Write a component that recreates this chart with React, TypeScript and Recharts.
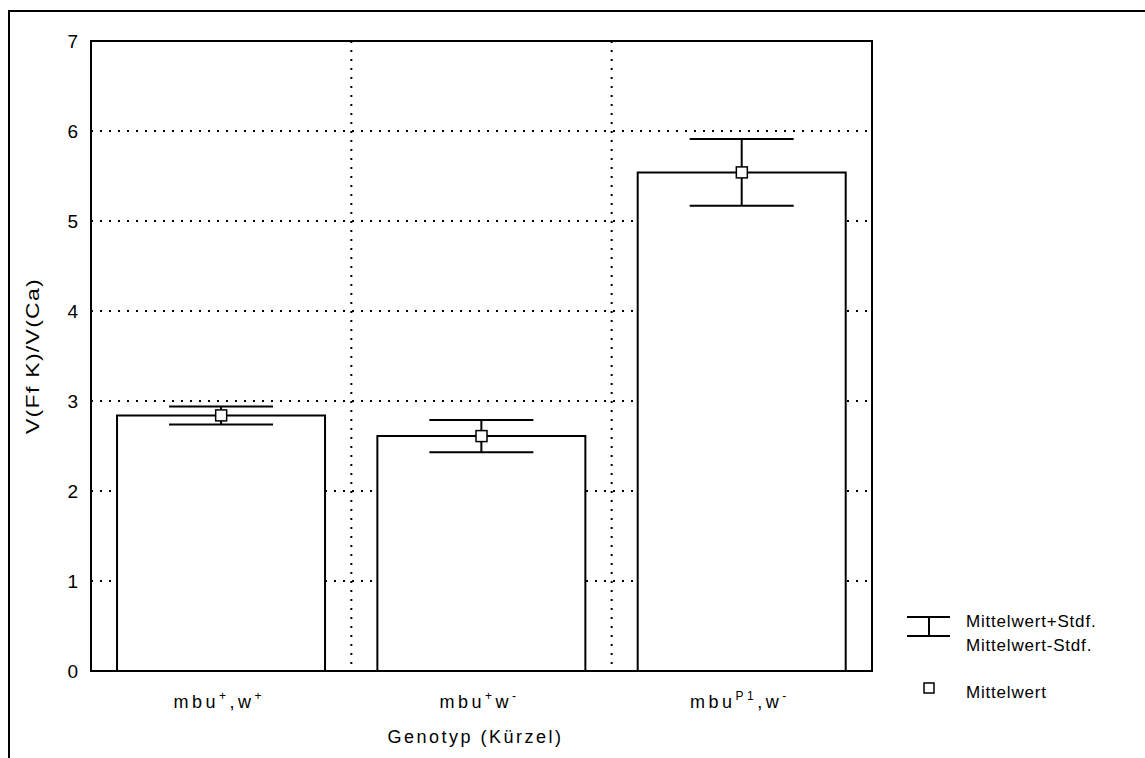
import {
  ComposedChart,
  Bar,
  Line,
  XAxis,
  YAxis,
  CartesianGrid,
  ErrorBar,
  ReferenceArea,
  Label,
} from "recharts";

const genotypes = ["mbu+,w+", "mbu+w-", "mbuP1,w-"];
const mittelwert = [2.84, 2.61, 5.54];
const stdf = [0.1, 0.18, 0.37];
const yTicks = [0, 1, 2, 3, 4, 5, 6, 7];

// Tick label pieces, [text, superscript]
const tickLabels: [string, boolean][][] = [
  [["mbu", false], ["+", true], [",w", false], ["+", true]],
  [["mbu", false], ["+", true], ["w", false], ["-", true]],
  [["mbu", false], ["P1", true], [",w", false], ["-", true]],
];

const FONT = "'Liberation Sans', Arial, sans-serif";

const data = genotypes.map((g, i) => ({
  name: g,
  mean: mittelwert[i],
  stdf: stdf[i],
}));

const GenotypTick = (props: any) => {
  const { x, y, payload } = props;
  const parts = tickLabels[genotypes.indexOf(payload.value)];
  return (
    <text x={x - 2} y={y + 37} textAnchor="middle" fontSize={18} letterSpacing={3.5} fontFamily={FONT} fill="#000">
      {parts.map(([t, sup], i) =>
        sup ? (
          <tspan key={i} fontSize={12} dy={-8}>{t}</tspan>
        ) : (
          <tspan key={i} dy={i === 0 ? 0 : 8}>{t}</tspan>
        )
      )}
    </text>
  );
};

const MeanSquare = (props: any) => {
  const { cx, cy } = props;
  if (cx == null || cy == null) return null;
  return <rect x={cx - 5.5} y={cy - 5.5} width={11} height={11} fill="#fff" stroke="#000" strokeWidth={1.5} />;
};

const renderYLabel = (props: any) => {
  const vb = props.viewBox;
  const cx = vb.x + 1;
  const cy = vb.y + vb.height / 2;
  return (
    <text x={0} y={0} transform={`translate(${cx} ${cy}) rotate(-90) scale(1.28 1)`} textAnchor="middle"
      dominantBaseline="central" fontSize={18} letterSpacing={1} fontFamily={FONT} fill="#000">
      V(Ff K)/V(Ca)
    </text>
  );
};

const renderXLabel = (props: any) => {
  const vb = props.viewBox;
  return (
    <text x={vb.x + vb.width / 2 - 6} y={vb.y + 72} textAnchor="middle" fontSize={18} letterSpacing={2.5}
      fontFamily={FONT} fill="#000">
      Genotyp (Kürzel)
    </text>
  );
};

const StatLegend = () => (
  <svg width={250} height={110} style={{ position: "absolute", left: 887, top: 596, display: "block" }}>
    <line x1={10} y1={9} x2={53} y2={9} stroke="#000" strokeWidth={2} />
    <line x1={10} y1={28} x2={53} y2={28} stroke="#000" strokeWidth={2} />
    <line x1={32} y1={9} x2={32} y2={28} stroke="#000" strokeWidth={2} />
    <g fontFamily={FONT} fontSize={17} letterSpacing={0.8} fill="#000">
      <text x={69} y={19}>Mittelwert+Stdf.</text>
      <text x={69} y={43}>Mittelwert-Stdf.</text>
      <text x={69} y={90}>Mittelwert</text>
    </g>
    <rect x={27} y={75} width={10} height={10} fill="#fff" stroke="#000" strokeWidth={1.5} />
  </svg>
);

export default function App() {
  return (
    <div
      style={{
        position: "fixed",
        left: 8,
        top: 10,
        width: 1137,
        height: 748,
        borderLeft: "2px solid #000",
        borderTop: "2px solid #000",
        boxSizing: "border-box",
        background: "#fff",
      }}
    >
      <ComposedChart
        width={1135}
        height={746}
        data={data}
        margin={{ top: 29, right: 273, bottom: 7, left: 21 }}
        barCategoryGap="10%"
      >
        <CartesianGrid
          stroke="#000"
          strokeWidth={2}
          strokeDasharray="2 7"
          verticalCoordinatesGenerator={({ offset }: any) => [
            offset.left + offset.width / 3,
            offset.left + (2 * offset.width) / 3,
          ]}
        />
        <XAxis
          dataKey="name"
          height={80}
          tickLine={false}
          tickSize={0}
          tickMargin={0}
          axisLine={{ stroke: "#000", strokeWidth: 2 }}
          tick={<GenotypTick />}
          interval={0}
        >
          <Label content={renderXLabel} />
        </XAxis>
        <YAxis
          width={60}
          domain={[0, 7]}
          ticks={yTicks}
          tickLine={false}
          tickSize={6}
          tickMargin={7}
          axisLine={{ stroke: "#000", strokeWidth: 2 }}
          tick={{ fill: "#000", fontSize: 19, fontFamily: FONT }}
        >
          <Label content={renderYLabel} />
        </YAxis>
        <Bar dataKey="mean" fill="#fff" stroke="#000" strokeWidth={2} isAnimationActive={false} legendType="none">
          <ErrorBar dataKey="stdf" width={52} stroke="#000" strokeWidth={2} direction="y" />
        </Bar>
        <Line
          dataKey="mean"
          stroke="none"
          dot={<MeanSquare />}
          activeDot={false}
          isAnimationActive={false}
          legendType="none"
        />
        <ReferenceArea y1={0} y2={7} fill="none" stroke="#000" strokeWidth={2} ifOverflow="visible" />
      </ComposedChart>
      <StatLegend />
    </div>
  );
}
